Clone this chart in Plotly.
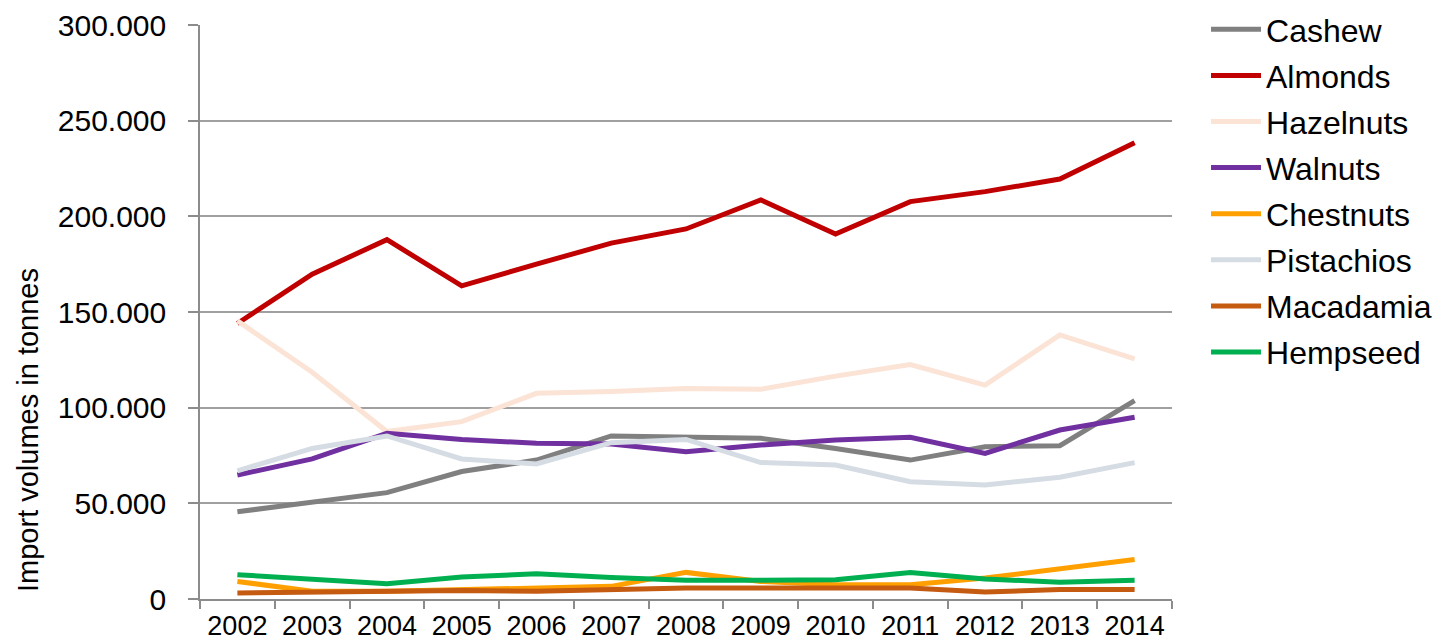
import plotly.graph_objects as go

years = ["2002", "2003", "2004", "2005", "2006", "2007", "2008",
         "2009", "2010", "2011", "2012", "2013", "2014"]

cashew = [45600, 50900, 55600, 66600, 72600, 85200, 84800, 84000, 78700, 72600, 79600, 80100, 103700]
almonds = [144000, 169800, 187800, 163700, 175000, 186000, 193400, 208600, 190700, 207700, 212900, 219500, 238400]
hazelnuts = [145400, 118500, 87500, 92700, 107500, 108400, 110000, 109600, 116500, 122500, 111800, 138000, 125500]
walnuts = [64800, 73200, 86600, 83400, 81400, 81000, 77000, 80500, 83100, 84500, 76100, 88300, 95000]
chestnuts = [9200, 4000, 4000, 4900, 5200, 6600, 13900, 9200, 7500, 7500, 11000, 15700, 20600]
pistachios = [67000, 78700, 85200, 73200, 70600, 81700, 83400, 71300, 70000, 61300, 59600, 63600, 71300]
macadamia = [3100, 3500, 3800, 4500, 4000, 4900, 5700, 5700, 5700, 5700, 3700, 4900, 4900]
hempseed = [12700, 10500, 8000, 11500, 13200, 11300, 9800, 9800, 10100, 13900, 10500, 8700, 9800]

series = [
    ("Cashew", cashew, "#808080"),
    ("Almonds", almonds, "#C00000"),
    ("Hazelnuts", hazelnuts, "#FBE3D6"),
    ("Walnuts", walnuts, "#7030A0"),
    ("Chestnuts", chestnuts, "#FFA000"),
    ("Pistachios", pistachios, "#D6DCE4"),
    ("Macadamia", macadamia, "#C55A11"),
    ("Hempseed", hempseed, "#00B050"),
]

FONT = "Liberation Sans, Arial, sans-serif"

fig = go.Figure()
for name, vals, col in series:
    fig.add_trace(go.Scatter(
        x=years, y=vals, name=name, mode="lines", legendgroup=name,
        line=dict(color=col, width=5),
    ))

# page body has an 8px margin, so the figure is sized/positioned to compensate
fig.update_layout(
    width=1441, height=636,
    margin=dict(l=192, r=277, t=17, b=45, autoexpand=False),
    paper_bgcolor="white", plot_bgcolor="white",
    separators=",.",
    font=dict(family=FONT, color="#000000"),
    legend=dict(
        x=1.035, xanchor="left",
        y=(591 - 183) / 574, yanchor="middle",
        font=dict(family=FONT, size=32, color="#000000"),
        itemwidth=50, tracegroupgap=1.5,
        bgcolor="rgba(0,0,0,0)",
    ),
    showlegend=True,
)

fig.update_xaxes(
    type="category", automargin=False,
    showgrid=False,
    showline=True, linecolor="#8c8c8c", linewidth=1.5,
    ticks="outside", tickson="boundaries", ticklen=8, tickcolor="#8c8c8c", tickwidth=1.5,
    tickfont=dict(family=FONT, size=27, color="#000000"),
    ticklabelstandoff=2,
    range=[-0.5, 12.5],
)

fig.update_yaxes(
    automargin=False,
    range=[0, 300000], dtick=50000, tickformat=",.0f",
    showgrid=True, gridcolor="#a0a0a0", gridwidth=1.5,
    showline=True, linecolor="#8c8c8c", linewidth=1.5,
    ticks="outside", ticklen=10, tickcolor="#8c8c8c", tickwidth=1.5,
    tickfont=dict(family=FONT, size=30, color="#000000"),
    ticklabelstandoff=16,
    zeroline=False,
)

fig.add_annotation(
    text="Import volumes in tonnes",
    xref="paper", yref="paper",
    x=0, y=(591 - 422) / 574, xshift=-172,
    xanchor="center", yanchor="middle",
    textangle=-90, showarrow=False,
    font=dict(family=FONT, size=29, color="#000000"),
)

fig.write_html("out.html")
